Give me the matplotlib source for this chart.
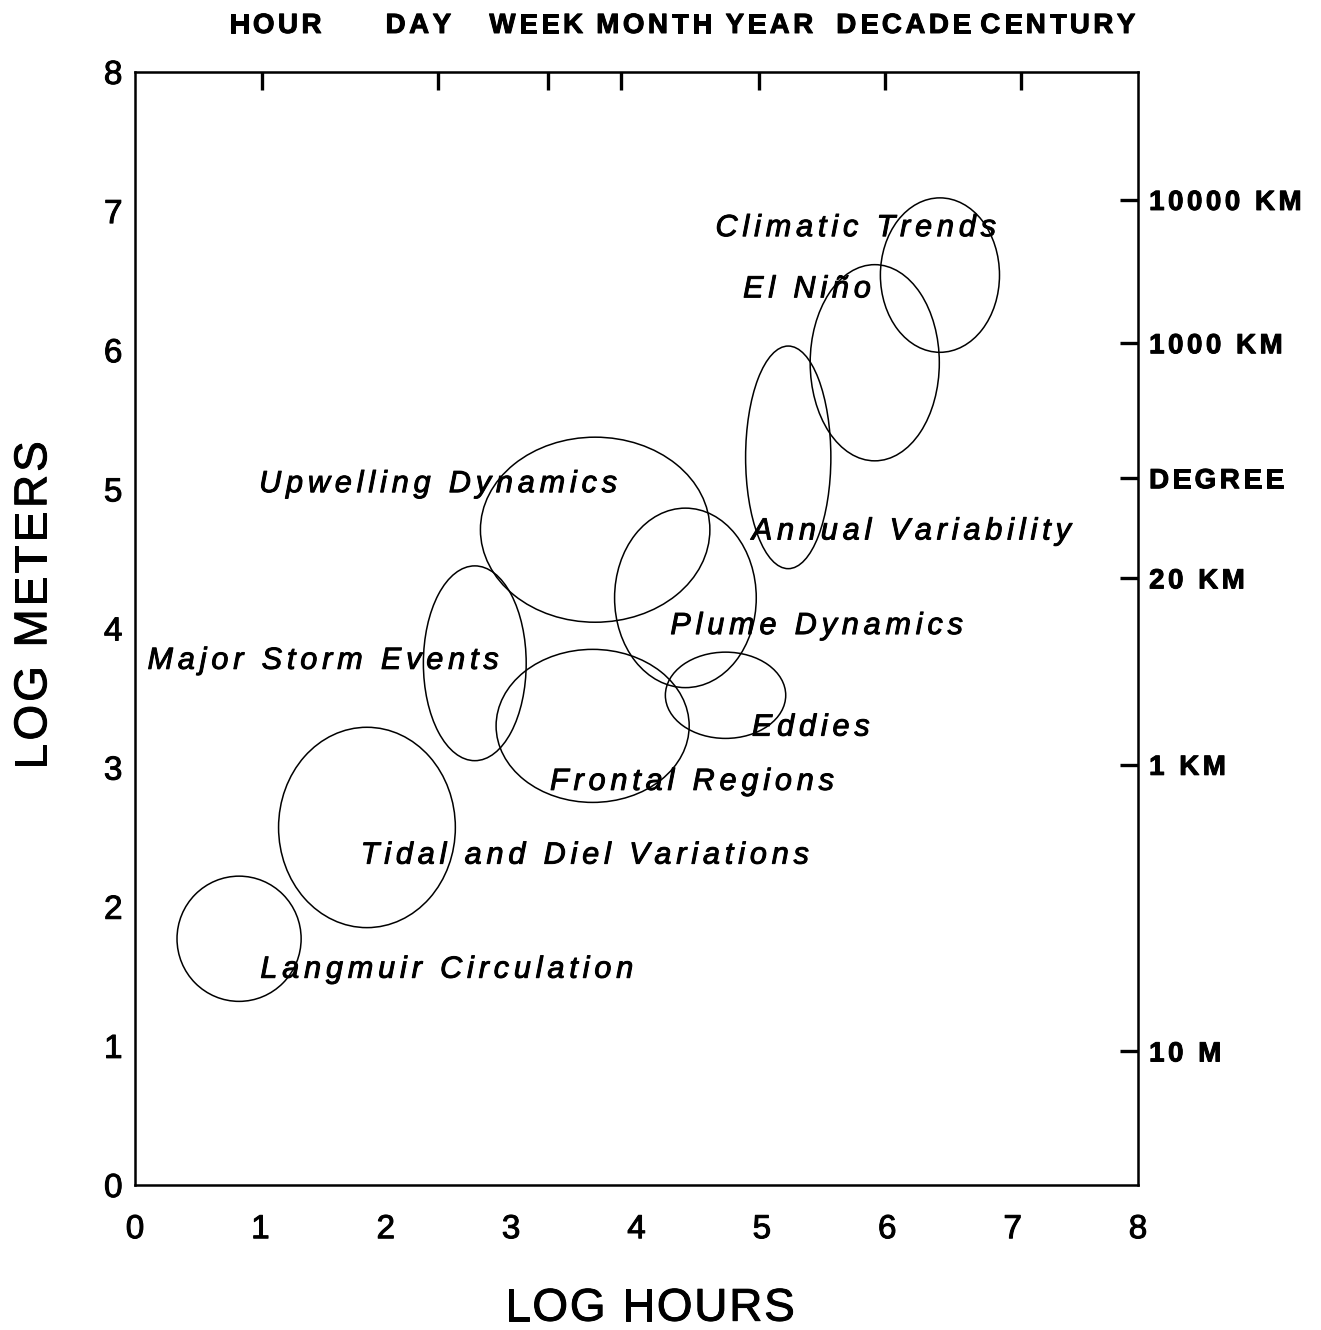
import matplotlib
matplotlib.use("Agg")
import matplotlib.pyplot as plt
import matplotlib.patheffects as pe
from matplotlib.patches import Ellipse
from matplotlib.font_manager import FontProperties, findfont
from matplotlib.ft2font import FT2Font
from matplotlib.transforms import offset_copy, blended_transform_factory

plt.rcParams['font.family'] = ['Liberation Sans', 'DejaVu Sans']

# Phenomena: center (log hours, log meters), extent (width, height) in log units
names = ["Langmuir Circulation", "Tidal and Diel Variations", "Major Storm Events",
         "Upwelling Dynamics", "Frontal Regions", "Plume Dynamics", "Eddies",
         "Annual Variability", "El Niño", "Climatic Trends"]
cx = [0.83, 1.85, 2.71, 3.67, 3.65, 4.39, 4.71, 5.21, 5.90, 6.42]
cy = [1.77, 2.57, 3.75, 4.71, 3.30, 4.22, 3.52, 5.23, 5.91, 6.54]
ew = [0.99, 1.41, 0.82, 1.83, 1.54, 1.13, 0.96, 0.68, 1.03, 0.95]
eh = [0.90, 1.44, 1.40, 1.33, 1.10, 1.29, 0.62, 1.60, 1.41, 1.11]
# label anchor (left edge, baseline) in data units
lx = [1.00, 1.80, 0.10, 0.99, 3.31, 4.27, 4.92, 4.92, 4.85, 4.63]
ly = [1.49, 2.31, 3.71, 4.98, 2.84, 3.96, 3.23, 4.64, 6.38, 6.82]

# time scales along the top axis
top_ticks = [1.01, 2.42, 3.29, 3.88, 4.98, 5.98, 7.07]
top_labels = ["HOUR", "DAY", "WEEK", "MONTH", "YEAR", "DECADE", "CENTURY"]
top_label_x = [1.12, 2.26, 3.20, 4.14, 5.06, 6.13, 7.36]

# length scales along the right axis
right_ticks = [7.08, 6.05, 5.08, 4.36, 3.02, 0.96]
right_labels = ["10000 KM", "1000 KM", "DEGREE", "20 KM", "1 KM", "10 M"]

DPI = 100
fig = plt.figure(figsize=(13.21, 13.30), dpi=DPI)
ax = fig.add_axes([0.1022, 0.1090, 0.7593, 0.8369])
ax.set_xlim(0, 8)
ax.set_ylim(0, 8)

# slightly heavier strokes for all lettering
heavy = [pe.withStroke(linewidth=0.7, foreground='black')]


def advances(s, prop):
    """Horizontal advance (pixels) of each character of s."""
    font = FT2Font(findfont(prop))
    font.set_size(prop.get_size_in_points(), DPI)
    out = []
    for c in s:
        g = font.load_char(ord(c))
        out.append(g.linearHoriAdvance / 65536)
    return out


def spaced_text(x, y, s, transform, prop, tracking=4.0, ha='left',
                rotation=0, dy=0.0):
    """Draw s letter by letter with extra spacing between letters."""
    adv = advances(s, prop)
    total = sum(adv) + tracking * (len(s) - 1)
    start = {'left': 0.0, 'center': -total / 2, 'right': -total}[ha]
    pos = start
    for c, a in zip(s, adv):
        if rotation == 90:
            tr = offset_copy(transform, fig=fig, x=-dy, y=pos, units='dots')
        else:
            tr = offset_copy(transform, fig=fig, x=pos, y=dy, units='dots')
        fig.text(x, y, c, transform=tr, fontproperties=prop, ha='left',
                 va='baseline', rotation=rotation, rotation_mode='anchor',
                 path_effects=heavy)
        pos += a + tracking


for x, y, w, h in zip(cx, cy, ew, eh):
    ax.add_patch(Ellipse((x, y), w, h, fill=False, edgecolor='black', linewidth=1.1))

label_prop = FontProperties(family='Liberation Sans', style='italic', size=22)
for name, x, y in zip(names, lx, ly):
    spaced_text(x, y, name, ax.transData, label_prop, tracking=4.9)

for s in ax.spines.values():
    s.set_linewidth(1.8)

ax.set_xticks(range(0, 9))
ax.set_yticks(range(0, 9))
ax.tick_params(axis='both', direction='in', length=12, width=2.4, labelsize=24)
ax.tick_params(axis='x', pad=21)
ax.tick_params(axis='y', pad=9)
for t in ax.xaxis.get_major_ticks():
    if t.get_loc() in (0, 8):
        t.tick1line.set_visible(False)
for t in ax.yaxis.get_major_ticks():
    if t.get_loc() in (0, 8):
        t.tick1line.set_visible(False)
for lbl in ax.get_xticklabels() + ax.get_yticklabels():
    lbl.set_path_effects(heavy)

# axis titles
title_prop = FontProperties(family='Liberation Sans', size=33)
spaced_text(0.492, 0.007, "LOG HOURS", fig.transFigure, title_prop,
            tracking=1.8, ha='center')
spaced_text(0.035, 0.545, "LOG METERS", fig.transFigure, title_prop,
            tracking=3.0, ha='center', rotation=90)

# time-scale ticks along the top
top = ax.secondary_xaxis('top')
top.set_xticks(top_ticks)
top.set_xticklabels([])
top.tick_params(direction='in', length=13, width=2.4)
top_prop = FontProperties(family='Liberation Sans', weight='bold', size=20)
top_tr = blended_transform_factory(ax.transData, ax.transAxes)
for lbl, x in zip(top_labels, top_label_x):
    spaced_text(x, 1.035, lbl, top_tr, top_prop, tracking=3.5, ha='center')

# length-scale ticks along the right
right = ax.secondary_yaxis('right')
right.set_yticks(right_ticks)
right.set_yticklabels([])
right.tick_params(direction='in', length=13, width=2.4)
right_tr = blended_transform_factory(ax.transAxes, ax.transData)
for lbl, y in zip(right_labels, right_ticks):
    spaced_text(1.011, y, lbl, right_tr, top_prop, tracking=3.5, dy=-10)

fig.savefig("out.png", dpi=DPI)
